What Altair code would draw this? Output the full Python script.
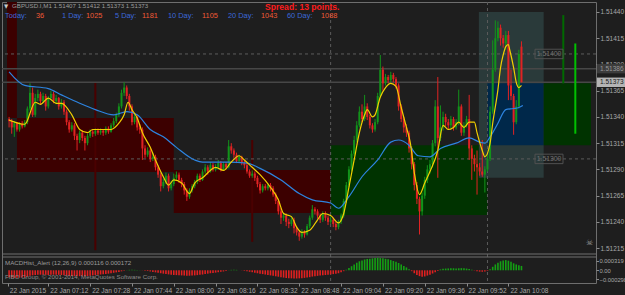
import altair as alt
import pandas as pd

# ---------------- data (prices in points above 1.51200, times in minutes after midnight) ----------------
BASE = 1.512
START_MIN = 417  # first bar 06:57

close_pts = [
    136, 130, 134, 128, 133, 131, 135, 148, 163, 142,
    158, 162, 155, 160, 150, 158, 162, 155, 158, 150,
    154, 145, 135, 128, 132, 122, 118, 125, 120, 115,
    122, 126, 124, 127, 125, 127, 125, 129, 126, 132,
    136, 142, 150, 163, 168, 160, 150, 135, 140, 130,
    128, 110, 104, 108, 100, 102, 92, 85, 74, 78,
    84, 72, 76, 82, 85, 80, 76, 70, 64, 70,
    74, 78, 84, 80, 88, 92, 88, 94, 90, 92,
    96, 90, 95, 92, 112, 108, 104, 98, 102, 96,
    94, 88, 84, 86, 82, 76, 70, 74, 72, 75,
    72, 66, 60, 50, 44, 46, 40, 38, 42, 34,
    30, 26, 30, 28, 36, 44, 52, 50, 46, 42,
    48, 44, 40, 42, 38, 35, 40, 46, 60, 75,
    90, 105, 118, 132, 145, 138, 150, 140, 132, 128,
    135, 160, 185, 172, 178, 175, 180, 176, 170, 150,
    138, 130, 125, 110, 95, 75, 62, 50, 65, 80,
    90, 95, 115, 150, 120, 130, 140, 135, 132, 138,
    130, 135, 150, 125, 132, 138, 110, 100, 95, 92,
    88, 85, 90, 100, 145, 185, 215, 225, 215, 210,
    218, 170, 160, 135, 150, 200, 173,
]
high_pts = [
    140, 138, 136, 135, 135, 136, 137, 150, 172, 168,
    162, 166, 164, 163, 162, 160, 165, 164, 161, 159,
    157, 156, 147, 137, 135, 134, 124, 127, 127, 122,
    124, 128, 128, 129, 129, 129, 128, 131, 131, 134,
    139, 144, 153, 166, 173, 170, 162, 152, 143, 142,
    133, 130, 113, 111, 110, 106, 104, 94, 87, 81,
    87, 86, 79, 86, 88, 87, 82, 78, 72, 72,
    76, 80, 86, 86, 90, 95, 94, 97, 96, 95,
    99, 98, 97, 97, 118, 115, 110, 106, 104, 103,
    98, 96, 90, 89, 88, 84, 78, 76, 76, 77,
    77, 74, 68, 62, 53, 49, 48, 43, 45, 44,
    36, 32, 33, 32, 38, 46, 56, 54, 52, 48,
    50, 50, 46, 45, 44, 40, 42, 48, 62, 78,
    93, 108, 122, 136, 150, 152, 161, 153, 142, 134,
    138, 163, 199, 188, 181, 180, 183, 182, 178, 172,
    152, 140, 133, 127, 112, 97, 78, 64, 68, 83,
    94, 99, 118, 156, 178, 151, 145, 143, 138, 141,
    140, 138, 166, 152, 135, 141, 161, 113, 104, 108,
    96, 118, 93, 104, 150, 213, 232, 231, 228, 218,
    222, 222, 185, 162, 156, 204, 212,
]
low_pts = [
    130, 124, 121, 126, 126, 129, 130, 133, 146, 140,
    140, 155, 152, 153, 146, 148, 156, 153, 152, 147,
    148, 142, 132, 125, 126, 118, 108, 115, 117, 108,
    113, 120, 121, 122, 123, 123, 122, 123, 124, 125,
    130, 134, 140, 148, 160, 157, 146, 132, 133, 127,
    124, 99, 101, 102, 97, 98, 89, 82, 69, 72,
    76, 69, 70, 74, 80, 77, 73, 66, 60, 62,
    68, 72, 76, 78, 79, 86, 85, 87, 88, 88,
    90, 88, 89, 90, 91, 105, 101, 96, 96, 94,
    91, 86, 82, 82, 79, 73, 67, 68, 70, 70,
    69, 64, 57, 47, 38, 41, 36, 34, 36, 29,
    27, 22, 24, 25, 27, 34, 42, 47, 43, 39,
    40, 41, 37, 38, 35, 32, 33, 38, 44, 58,
    73, 88, 103, 116, 130, 135, 136, 137, 129, 125,
    126, 133, 158, 165, 170, 172, 173, 173, 167, 146,
    135, 125, 121, 106, 90, 70, 57, 28, 46, 62,
    77, 86, 92, 112, 82, 117, 127, 131, 128, 129,
    127, 128, 132, 122, 122, 130, 99, 80, 88, 66,
    84, 83, 68, 88, 98, 143, 183, 212, 208, 206,
    204, 156, 156, 123, 133, 148, 173,
]
first_open_pts = 138
last_open_pts = 207

macd_e6 = [
    -240, -250, -260, -255, -250, -245, -240, -220, -190, -170,
    -160, -150, -150, -150, -155, -160, -155, -150, -150, -155,
    -160, -170, -180, -190, -195, -200, -205, -200, -200, -200,
    -195, -185, -175, -165, -155, -145, -135, -125, -115, -100,
    -85, -70, -55, -35, -15, 5, 15, 20, 15, 10,
    5, -5, -15, -25, -40, -55, -70, -85, -100, -115,
    -125, -140, -150, -160, -165, -170, -175, -180, -185, -185,
    -180, -175, -165, -155, -145, -130, -115, -100, -90, -80,
    -65, -50, -40, -25, 5, 15, 20, 15, 5, -5,
    -20, -35, -50, -65, -80, -100, -115, -130, -145, -160,
    -175, -190, -205, -220, -240, -250, -260, -270, -275, -280,
    -280, -275, -270, -260, -250, -235, -215, -200, -190, -180,
    -170, -160, -150, -140, -130, -115, -100, -70, -30, 20,
    80, 140, 200, 260, 310, 340, 370, 390, 400, 410,
    420, 430, 420, 410, 395, 375, 350, 320, 290, 250,
    200, 150, 100, 40, -30, -100, -160, -200, -220, -210,
    -180, -150, -110, -70, -20, 30, 50, 60, 65, 70,
    70, 65, 70, 75, 70, 60, 45, 20, -10, -35,
    -45, -50, -45, -20, 40, 120, 200, 260, 310, 340,
    350, 330, 290, 240, 200, 170, 150,
]

yellow_idx = [0, 6, 10, 12, 15, 18, 20, 24, 27, 30, 32, 36, 39, 42, 44, 45.5, 47, 49, 51, 54,
              56, 59, 61, 63, 66, 69, 71, 74, 79, 82, 85, 88, 90, 93, 96, 100, 103, 105, 108, 110,
              112, 115, 118, 120, 123, 126, 128, 130, 132, 134, 136, 137, 139, 140, 142, 144, 146, 148, 150, 152,
              153.5, 155, 157, 159, 161, 164, 166, 168, 170, 172, 174, 176, 178, 179, 181, 182, 184, 185, 187, 188,
              189, 190, 191, 191.5, 193, 194, 195, 196]
yellow_pts = [137, 133, 154, 152, 158, 153, 153, 142, 128, 125, 128, 128, 128, 134, 142, 154, 147, 139, 125, 111,
              99, 83, 75, 80, 77, 67, 77, 82, 92, 89, 97, 103, 99, 92, 85, 73, 61, 48, 45, 35,
              30, 32, 42, 48, 46, 39, 48, 73, 99, 125, 142, 147, 140, 142, 159, 168, 172, 169, 149, 130,
              115, 87, 66, 77, 88, 108, 132, 128, 130, 135, 130, 135, 135, 125, 108, 102, 115, 134, 166, 187,
              199, 207, 209, 204, 187, 173, 168, 170]

blue_idx = [0, 6, 15, 20, 27, 33, 40, 45, 49, 54, 59, 64, 71, 74, 84, 91, 96, 104, 111, 116,
            123, 126, 130, 135, 141, 146, 149, 153, 156.5, 161, 165, 171, 176, 180, 182, 184, 187, 190, 193, 195,
            196.5]
blue_pts = [183, 170, 167, 161, 153, 147, 142, 145, 142, 128, 121, 111, 99, 97, 97, 96, 91, 80, 67, 61,
            58, 53, 64, 83, 99, 116, 118, 113, 103, 102, 110, 115, 120, 116, 115, 121, 134, 147, 148, 149,
            151]

# zone rectangles
rect_t0 = [416.2, 420, 480, 540, 596.7, 600, 621.5]
rect_t1 = [420, 480, 540, 600, 621.5, 621.5, 639.6]
rect_p0 = [139, 87.5, 48.5, 46.5, 82, 113, 113]
rect_p1 = [249.5, 139, 89.4, 113, 240, 172, 172]
rect_kind = ["sell", "sell", "sell", "buy", "range", "zone", "buy"]

# levels
dashed_levels = [1.51400, 1.51300]
solid_levels = [1.51386, 1.51373]
dashed_times = [540, 600]
session_t = [450, 510]
session_p0 = [13, 21]
session_p1 = [173, 118]
signal_t = [629, 633.6]
signal_p0 = [172, 124]
signal_p1 = [237, 210]

price_ticks = [1.51215, 1.51240, 1.51265, 1.51290, 1.51315, 1.51340, 1.51365, 1.51390, 1.51415, 1.51440]
time_ticks = [416.5, 432, 448, 464, 480, 496, 512, 528, 544, 560, 576, 592, 608]
macd_ticks = [0.000319, 0.0, -0.000298]

header_names = ["Today:", "1 Day:", "5 Day:", "10 Day:", "20 Day:", "60 Day:"]
header_values = ["36", "1025", "1181", "1105", "1043", "1088"]
symbol_text = "GBPUSD.I,M1  1.51407 1.51412 1.51373 1.51373"
spread_text = "Spread: 13 points."
macd_title = "MACDHist_Alert (12,26,9) 0.000116 0.000172"
copyright_text = "FIBO Group, \u00a9 2001-2014, MetaQuotes Software Corp."
level_box_labels = ["1.51400", "1.51300"]
price_tags = ["1.51386", "1.51373"]

# ---------------- tables ----------------
n = len(close_pts)
open_pts = [first_open_pts] + close_pts[:-1]
open_pts[-1] = last_open_pts
candles = pd.DataFrame({
    "t": [START_MIN + i for i in range(n)],
    "o": [BASE + v * 1e-5 for v in open_pts],
    "c": [BASE + v * 1e-5 for v in close_pts],
    "h": [BASE + v * 1e-5 for v in high_pts],
    "l": [BASE + v * 1e-5 for v in low_pts],
    "dir": ["up" if c >= o else "down" for o, c in zip(open_pts, close_pts)],
})
macd = pd.DataFrame({
    "t": [START_MIN + i for i in range(len(macd_e6))],
    "m": [v * 1e-6 for v in macd_e6],
    "sgn": ["pos" if v > 0 else "neg" for v in macd_e6],
})
yellow = pd.DataFrame({"t": [START_MIN + i for i in yellow_idx], "p": [BASE + v * 1e-5 for v in yellow_pts]})
blue = pd.DataFrame({"t": [START_MIN + i for i in blue_idx], "p": [BASE + v * 1e-5 for v in blue_pts]})
rects = pd.DataFrame({
    "t0": rect_t0, "t1": rect_t1,
    "p0": [BASE + v * 1e-5 for v in rect_p0], "p1": [BASE + v * 1e-5 for v in rect_p1],
    "kind": rect_kind, "order": list(range(len(rect_t0))),
})
sessions = pd.DataFrame({"t": session_t, "p0": [BASE + v * 1e-5 for v in session_p0],
                         "p1": [BASE + v * 1e-5 for v in session_p1]})
signals = pd.DataFrame({"t": signal_t, "p0": [BASE + v * 1e-5 for v in signal_p0],
                        "p1": [BASE + v * 1e-5 for v in signal_p1], "k": ["a", "b"]})
level_boxes = pd.DataFrame({"lab": level_box_labels, "p": dashed_levels,
                            "pa": [v + 0.000045 for v in dashed_levels], "pb": [v - 0.000045 for v in dashed_levels]})
tags = pd.DataFrame({"lab": price_tags, "p": solid_levels,
                     "pa": [v + 0.000045 for v in solid_levels], "pb": [v - 0.000045 for v in solid_levels],
                     "k": ["prev", "bid"]})

# ---------------- styling ----------------
BG = "#1e1e1e"
GRID = "#5c5c5c"
TXT = "#a8a8a8"
FONT = "Liberation Sans"
PAD_L, PAD_T = 2, 2

X_SCALE = alt.Scale(domain=[416.2, 639.6], nice=False, zero=False)
P_SCALE = alt.Scale(domain=[1.512094, 1.514495], range=[252, 0], nice=False, zero=False)
M_SCALE = alt.Scale(domain=[-0.000435, 0.000456], range=[281, 255], nice=False, zero=False)

x_axis = alt.Axis(values=time_ticks, title=None, grid=False, domain=False, tickSize=3, tickColor="#8a8a8a",
                  labelColor=TXT, labelFont=FONT, labelFontSize=6.6, labelAlign="left", labelBaseline="top",
                  labelPadding=1.5, labelOffset=1.5, labelOverlap=False, labelFlush=False,
                  labelExpr="datum.value < 420 ? '22 Jan 2015' : '22 Jan ' + format(floor(datum.value/60), '02d') + ':' + format(datum.value % 60, '02d')")
p_axis = alt.Axis(values=price_ticks, format=".5f", orient="right", title=None, grid=False, domain=False,
                  tickSize=3, tickColor="#8a8a8a", labelColor=TXT, labelFont=FONT, labelFontSize=6.5,
                  labelPadding=1, labelBaseline="middle", labelOverlap=False, labelFlush=False)
m_axis = alt.Axis(values=macd_ticks, orient="right", title=None, grid=False, domain=False,
                  tickSize=2.5, tickColor="#8a8a8a", labelColor=TXT, labelFont=FONT, labelFontSize=5.8,
                  labelPadding=0.5, labelBaseline="middle", labelOverlap=False, labelFlush=False,
                  labelExpr="datum.value == 0 ? '0.00' : format(datum.value, '.6f')")

def X(field):
    return alt.X(field, type="quantitative", scale=X_SCALE, axis=x_axis)

def P(field):
    return alt.Y(field, type="quantitative", scale=P_SCALE, axis=p_axis)

def M(field):
    return alt.Y(field, type="quantitative", scale=M_SCALE, axis=m_axis)

# ---------------- price panel ----------------
zones = alt.Chart(rects).mark_rect().encode(
    x=X("t0"), x2="t1", y=P("p0"), y2="p1",
    color=alt.Color("kind:N", legend=None, scale=alt.Scale(
        domain=["sell", "buy", "range", "zone"],
        range=["#3c0000", "#003300", "#2a3a3a", "#00284a"])),
    order="order:Q",
)
session_lines = alt.Chart(sessions).mark_rule(color="#4a0000", strokeWidth=2).encode(
    x=X("t"), y=P("p0"), y2="p1")
vdash = alt.Chart(pd.DataFrame({"t": dashed_times})).mark_rule(
    color=GRID, strokeDash=[3, 3], strokeWidth=1).encode(x=X("t"))
hdash = alt.Chart(pd.DataFrame({"p": dashed_levels})).mark_rule(
    color=GRID, strokeDash=[3, 3], strokeWidth=1).encode(y=P("p"))
hsolid = alt.Chart(pd.DataFrame({"p": solid_levels})).mark_rule(
    color="#474747", strokeWidth=1.5).encode(y=P("p"))

dir_color = alt.Color("dir:N", legend=None,
                      scale=alt.Scale(domain=["up", "down"], range=["#12931a", "#e02323"]))
wicks = alt.Chart(candles).mark_rule(strokeWidth=1).encode(
    x=X("t"), y=P("l"), y2="h", color=dir_color)
bodies = alt.Chart(candles).mark_bar(size=2).encode(
    x=X("t"), y=P("o"), y2="c", color=dir_color)

blue_line = alt.Chart(blue).mark_line(color="#2d84e0", strokeWidth=1.2, interpolate="monotone").encode(
    x=X("t"), y=P("p"))
yellow_line = alt.Chart(yellow).mark_line(color="#f2cf00", strokeWidth=1.2, interpolate="monotone").encode(
    x=X("t"), y=P("p"))

signal_lines = alt.Chart(signals).mark_rule(strokeWidth=2).encode(
    x=X("t"), y=P("p0"), y2="p1",
    color=alt.Color("k:N", legend=None, scale=alt.Scale(domain=["a", "b"], range=["#006a00", "#00c000"])))

box_frames = alt.Chart(level_boxes).mark_rect(fill=BG, fillOpacity=0.0, stroke="#505050", strokeWidth=1).encode(
    x=alt.value(535 - PAD_L), x2=alt.value(563 - PAD_L), y=P("pa"), y2="pb")
box_text = alt.Chart(level_boxes).mark_text(align="center", baseline="middle", font=FONT, fontSize=6.8,
                                            color="#707070").encode(
    x=alt.value(549 - PAD_L), y=P("p"), text="lab:N")

tag_rects = alt.Chart(tags).mark_rect().encode(
    x=alt.value(597 - PAD_L), x2=alt.value(625 - PAD_L), y=P("pa"), y2="pb",
    color=alt.Color("k:N", legend=None, scale=alt.Scale(domain=["prev", "bid"], range=["#3c3c3c", "#b4b4b4"])))
tag_text = alt.Chart(tags).mark_text(align="left", baseline="middle", font=FONT, fontSize=6.5).encode(
    x=alt.value(600 - PAD_L), y=P("p"), text="lab:N",
    color=alt.Color("k:N", legend=None, scale=alt.Scale(domain=["prev", "bid"], range=["#9a9a9a", "#1a1a1a"])))

price_bottom = alt.Chart(pd.DataFrame({"p": [1.512094]})).mark_rule(color="#6e6e6e", strokeWidth=1).encode(
    y=P("p"))

price_panel = alt.layer(zones, session_lines, vdash, hdash, hsolid, wicks, bodies, blue_line, yellow_line,
                        signal_lines, box_frames, box_text, tag_rects, tag_text, price_bottom
                        ).resolve_scale(color="independent")

# ---------------- MACD panel ----------------
macd_bars = alt.Chart(macd).mark_bar(size=1.6).encode(
    x=X("t"),
    y=M("m"),
    y2=alt.datum(0),
    color=alt.Color("sgn:N", legend=None, scale=alt.Scale(domain=["pos", "neg"], range=["#14a014", "#e02020"])))
macd_top = alt.Chart(pd.DataFrame({"m": [0.000456]})).mark_rule(color="#6e6e6e", strokeWidth=1).encode(
    y=M("m"))
macd_panel = alt.layer(macd_top, macd_bars)

# ---------------- texts ----------------
def txt(s, x, y, color, size, weight="normal", font=FONT):
    return alt.Chart(pd.DataFrame({"s": [s]})).mark_text(
        align="left", baseline="middle", font=font, fontSize=size, fontWeight=weight, color=color
    ).encode(x=alt.value(x - PAD_L), y=alt.value(y - PAD_T), text="s:N")

name_x = [5, 62, 115, 168, 228, 287]
value_x = [36, 86, 142, 202, 261, 321]
texts = [
    txt("\u25bc", 4, 6, "#c8c8c8", 5.5, font="DejaVu Sans"),
    txt(symbol_text, 12, 6, "#9c9c9c", 6.2),
    txt(spread_text, 265, 7, "#ff1c1c", 8.6, weight="bold"),
    txt(macd_title, 5, 262.5, "#9c9c9c", 6.2),
    txt(copyright_text, 5, 277, "#8c8c8c", 6.2),
    txt("\u2620", 586, 243, "#9a9a9a", 8, font="DejaVu Sans"),
]
for s, xx in zip(header_names, name_x):
    texts.append(txt(s, xx, 15.5, "#3c68dc", 7.4))
for s, xx in zip(header_values, value_x):
    texts.append(txt(s, xx, 15.5, "#f05a36", 7.4))

chart = alt.layer(price_panel, macd_panel, *texts).resolve_scale(
    y="independent", color="independent"
).properties(
    width=594, height=281,
    padding={"left": PAD_L, "top": PAD_T, "right": 29, "bottom": 12},
    autosize=alt.AutoSizeParams(type="none"),
    background=BG,
).configure_view(stroke="#6e6e6e", strokeWidth=1, fill=BG)

chart.save("out.html", embed_options={"renderer": "svg", "actions": False})
